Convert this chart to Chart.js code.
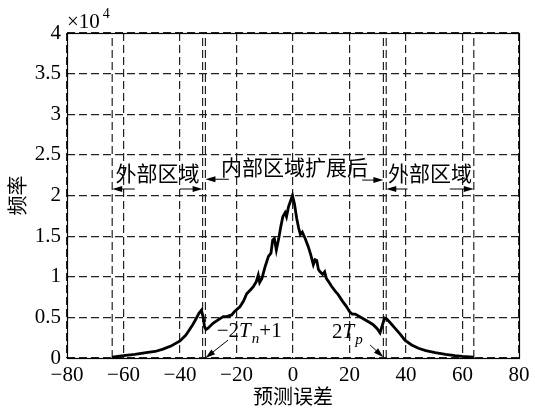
<!DOCTYPE html>
<html><head><meta charset="utf-8">
<script src="https://cdn.jsdelivr.net/npm/chart.js@4/dist/chart.umd.min.js"></script>
<style>html,body{margin:0;padding:0;background:#fff;}#wrap{width:535px;height:415px;}</style>
</head><body><div id="wrap"><canvas id="c" width="535" height="415"></canvas></div>
<script>
// prediction error (x) and frequency (×10^4)
const errX = [-64,-62,-60,-56,-52,-48.8,-46,-43,-40,-38,-37,-35.5,-34.5,-33.3,-32.4,-31.8,-31.3,-30.8,-30,-28.2,-26.5,-24.7,-23.5,-21.7,-20.5,-18.8,-17.5,-16.4,-15,-14,-13,-12.3,-11.8,-11,-9.9,-8.7,-7.8,-7.2,-6.6,-5.9,-5,-4.3,-3.6,-2.8,-2.3,-1.6,-0.9,-0.2,0.5,1.3,2.0,2.6,3.3,4.2,5.4,6.3,7.2,7.8,8.4,9.0,9.6,10.5,11.2,11.8,12.8,13.7,15,16,17.5,19,20,21,22,23.5,25.5,27,28.4,29.8,30.8,31.6,32.4,33.2,34.5,36,38,39.6,42,44.4,47,50.3,54,57.3,60,64];
const freqY = [0.01,0.02,0.03,0.045,0.065,0.08,0.11,0.15,0.21,0.28,0.33,0.41,0.47,0.55,0.59,0.5,0.38,0.35,0.37,0.43,0.47,0.51,0.51,0.53,0.58,0.63,0.7,0.79,0.84,0.88,0.94,1.02,0.93,0.98,1.12,1.25,1.29,1.45,1.47,1.33,1.48,1.62,1.74,1.79,1.74,1.86,1.93,2.0,1.9,1.72,1.6,1.52,1.55,1.48,1.37,1.27,1.15,1.21,1.2,1.09,1.06,1.03,1.06,0.98,0.93,0.88,0.82,0.78,0.7,0.63,0.57,0.54,0.54,0.51,0.47,0.44,0.41,0.36,0.31,0.4,0.49,0.48,0.43,0.37,0.29,0.22,0.16,0.12,0.09,0.065,0.045,0.03,0.02,0.01];
const xTicks = [-80,-60,-40,-20,0,20,40,60,80];
const yTicks = [0,0.5,1,1.5,2,2.5,3,3.5,4];
const regionLines = [-64,-32,-31,32,33,64];
const xTitle = '预测误差';
const yTitle = '频率';
const yExponent = '4';
const regionLabels = ['外部区域','内部区域扩展后','外部区域'];

const SERIF = '"Liberation Serif","Times New Roman",serif';
const CJK = '"Noto Sans CJK SC","Liberation Serif",sans-serif';
const fmt = v => v < 0 ? '\u2212' + Math.abs(v) : String(v);
const DASH = [8,4];

const datasets = [{
  data: errX.map((x,i)=>({x:x, y:freqY[i]})),
  borderColor:'#000', borderWidth:2.8, pointRadius:0, tension:0, fill:false, order:0
}];
regionLines.forEach(v => datasets.push({
  data:[{x:v,y:yTicks[0]},{x:v,y:yTicks[yTicks.length-1]}],
  borderColor:'#222', borderWidth:1.2, borderDash:DASH, pointRadius:0, fill:false, order:1
}));

function arrow(ctx,x1,y1,x2,y2){
  const a=Math.atan2(y2-y1,x2-x1), L=10, W=3;
  ctx.beginPath(); ctx.moveTo(x1,y1); ctx.lineTo(x2-Math.cos(a)*L*0.8,y2-Math.sin(a)*L*0.8); ctx.stroke();
  ctx.beginPath(); ctx.moveTo(x2,y2);
  ctx.lineTo(x2-Math.cos(a)*L-Math.sin(a)*W, y2-Math.sin(a)*L+Math.cos(a)*W);
  ctx.lineTo(x2-Math.cos(a)*L+Math.sin(a)*W, y2-Math.sin(a)*L-Math.cos(a)*W);
  ctx.closePath(); ctx.fill();
}
function rich(ctx,parts,x,y,size){
  ctx.textAlign='left'; ctx.textBaseline='alphabetic';
  parts.forEach(p=>{
    const s = p.sub ? size*0.72 : size;
    ctx.font = (p.it?'italic ':'') + s + 'px ' + SERIF;
    ctx.fillText(p.t, x, y + (p.sub ? size*0.3 : 0));
    x += ctx.measureText(p.t).width + (p.it && !p.sub ? 1 : 0);
  });
}

const deco = {
  id:'deco',
  afterDraw(chart){
    const {ctx, chartArea:ca, scales:{x:sx,y:sy}} = chart;
    const X = v=>sx.getPixelForValue(v), Y = v=>sy.getPixelForValue(v);
    ctx.save();
    ctx.strokeStyle='#000'; ctx.lineWidth=1.2; ctx.setLineDash([]);
    ctx.strokeRect(Math.round(ca.left)+0.5, Math.round(ca.top)+0.5, Math.round(ca.right-ca.left), Math.round(ca.bottom-ca.top));
    // ×10^4
    ctx.fillStyle='#000';
    ctx.font='21px '+SERIF; ctx.textAlign='left'; ctx.textBaseline='alphabetic';
    ctx.fillText('\u00d710', ca.left, ca.top-5);
    const w = ctx.measureText('\u00d710').width;
    ctx.font='14px '+SERIF; ctx.fillText(yExponent, ca.left+w+3, ca.top-15);
    // region labels
    ctx.font='21px '+CJK; ctx.textAlign='center'; ctx.textBaseline='middle';
    ctx.fillText(regionLabels[0], (X(-64)+X(-32))/2, Y(2.28));
    ctx.fillText(regionLabels[1], (X(-31)+X(32))/2, Y(2.35));
    ctx.fillText(regionLabels[2], (X(33)+X(64))/2, Y(2.28));
    ctx.lineWidth=1; ctx.strokeStyle='#000';
    arrow(ctx, X(-56), Y(2.08), X(-64), Y(2.08));
    arrow(ctx, X(-40), Y(2.08), X(-32), Y(2.08));
    arrow(ctx, X(-22.7), Y(2.2), X(-31), Y(2.2));
    arrow(ctx, X(24.5), Y(2.19), X(32), Y(2.19));
    arrow(ctx, X(40.5), Y(2.08), X(33), Y(2.08));
    arrow(ctx, X(55.5), Y(2.08), X(64), Y(2.08));
    arrow(ctx, X(-23), Y(0.22), X(-31), Y(0));
    arrow(ctx, X(27.3), Y(0.16), X(32), Y(0.01));
    rich(ctx,[{t:'\u22122'},{t:'T',it:true},{t:'n',it:true,sub:true},{t:'+1'}], X(-27), Y(0.26), 21);
    rich(ctx,[{t:'2'},{t:'T',it:true},{t:'p',it:true,sub:true}], X(13.8), Y(0.245), 21);
    ctx.restore();
  }
};

new Chart(document.getElementById('c'), {
  type:'line',
  data:{datasets},
  plugins:[deco],
  options:{
    responsive:false, animation:false, devicePixelRatio:1,
    layout:{padding:{top:33,right:16,left:0,bottom:0}},
    plugins:{legend:{display:false}, tooltip:{enabled:false}},
    scales:{
      x:{type:'linear', min:xTicks[0], max:xTicks[xTicks.length-1],
        afterBuildTicks:s=>{s.ticks=xTicks.map(v=>({value:v}));},
        afterFit:s=>{s.height=57;},
        grid:{color:'#222', lineWidth:1.2, drawTicks:false},
        border:{display:false, dash:DASH},
        ticks:{color:'#000', padding:5, maxRotation:0, font:{family:SERIF,size:21}, callback:v=>fmt(v)},
        title:{display:true, text:xTitle, color:'#000', font:{family:CJK,size:20}, padding:{top:0,bottom:7}}
      },
      y:{min:yTicks[0], max:yTicks[yTicks.length-1],
        afterBuildTicks:s=>{s.ticks=yTicks.map(v=>({value:v}));},
        afterFit:s=>{s.width=67;},
        grid:{color:'#222', lineWidth:1.2, drawTicks:false},
        border:{display:false, dash:DASH},
        ticks:{color:'#000', padding:6, font:{family:SERIF,size:21}, callback:v=>fmt(v)},
        title:{display:true, text:yTitle, color:'#000', font:{family:CJK,size:20}, padding:{top:5,bottom:0}}
      }
    }
  }
});
</script></body></html>
